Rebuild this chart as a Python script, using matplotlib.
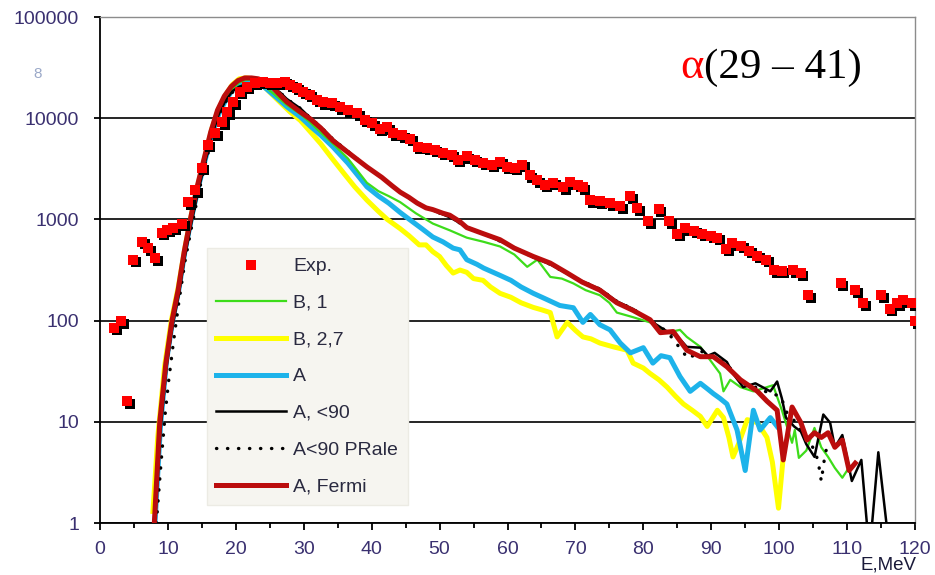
import matplotlib
matplotlib.use('Agg')
import matplotlib.pyplot as plt
from matplotlib import ticker, transforms

plt.rcParams['font.family'] = ['Liberation Sans', 'DejaVu Sans']

# Experimental points (E in MeV, counts)
exp_E = [2.1, 3.1, 4.0, 4.9, 6.2, 7.1, 8.1, 9.1, 9.9, 10.8, 12.1, 13.0, 14.0, 15.0, 15.9, 17.0,
         18.0, 18.7, 19.6, 20.6, 21.6, 22.8, 24.0, 25.0, 26.1, 27.2, 28.0, 29.0, 29.9, 30.9,
         32.0, 32.8, 34.2, 35.3, 36.5, 37.9, 39.0, 40.1, 41.2, 42.3, 43.2, 44.5, 45.7, 46.8,
         48.2, 49.3, 50.5, 51.8, 52.7, 54.0, 55.2, 56.4, 57.7, 58.9, 59.9, 61.1, 62.2, 63.3,
         64.4, 65.5, 66.7, 68.2, 69.2, 70.4, 71.1, 72.2, 73.6, 75.1, 76.6, 78.1, 79.1, 80.7,
         82.3, 83.8, 85.0, 86.2, 87.5, 88.7, 90.0, 90.9, 92.2, 93.1, 94.4, 95.6, 96.8, 98.1,
         99.3, 100.4, 102.1, 103.2, 104.3, 109.1, 111.2, 112.4, 115.0, 116.3, 117.4, 118.3,
         119.6, 120.0]
exp_v = [85, 98, 16, 400, 600, 520, 415, 740, 790, 830, 910, 1480, 1940, 3240, 5470, 7100,
         9150, 11500, 14400, 18200, 20400, 22300, 22800, 22300, 22300, 22800, 21500, 19900, 18200, 17000,
         15200, 14400, 14100, 12900, 12000, 11200, 9600, 8960, 7900, 8100, 7100, 6800, 6300, 5200,
         5100, 4900, 4550, 4350, 3900, 4200, 3900, 3620, 3460, 3700, 3300, 3230, 3460, 2740,
         2450, 2190, 2290, 2090, 2340, 2190, 2090, 1550, 1510, 1450, 1350, 1700, 1290, 960,
         1260, 960, 720, 820, 770, 720, 690, 660, 510, 580, 550, 490, 435, 400,
         316, 310, 316, 295, 178, 235, 200, 148, 178, 131, 148, 158,
         148, 98]

# B, 1
grn_E = [8.1, 8.9, 9.8, 10.7, 11.6, 12.5, 13.5, 14.5, 15.5, 16.5, 17.5, 18.5, 19.5, 20.5, 21.5,
         22.5, 23.5, 24.5, 26, 27.5, 29.5, 31, 32.5, 34.3, 36.5, 39.3, 41, 42.5, 44.2, 46.5, 49,
         51.5, 54, 56.5, 58.9, 61, 62.9, 64.4, 66.3, 68, 69.7, 71.5, 73.6, 75, 76.1, 78.5, 81,
         83.5, 85.4, 86.4, 88.4, 89.8, 91.3, 91.8, 92.8, 94.3, 96.2, 98.2, 99.1, 100.4, 101.9,
         102.3, 102.9, 104, 105.2, 106.2, 107.2, 108.2, 109.3, 110.0]
grn_v = [1, 9, 40, 100, 210, 490, 1080, 2150, 4000, 7200, 11200, 15500, 19500, 22500, 24000,
         24000, 22500, 20000, 16500, 13500, 11000, 9000, 7200, 5600, 4000, 2300, 1900, 1700, 1480, 1150, 910,
         780, 660, 600, 540, 450, 340, 400, 270, 260, 233, 200, 178, 150, 120, 108, 96,
         76, 81, 69, 55, 41, 30, 20, 26, 22, 20, 22, 23, 13, 6.2,
         8.3, 4.4, 5.2, 8.7, 5.6, 4.5, 3.5, 2.8, 3.3]

# B, 2,7
yel_E = [7.8, 8.5, 9.5, 10.5, 11.5, 12.5, 13.5, 14.5, 15.5, 16.5, 17.5, 18.5, 19.5, 20.5, 21.5,
         22.5, 23.5, 24.5, 26, 28, 29.5, 31, 32.5, 34.3, 36, 37.5, 39.3, 41, 42.3, 44.2, 45.5,
         47, 48, 49, 50, 51, 52, 53, 54, 55, 56.4, 57.5, 58.9, 60.5, 62, 63.8, 65, 66.3, 67.3,
         68.8, 70, 71.1, 72.3, 73.6, 75.6, 77.6, 78.5, 80, 81, 82.3, 83.5, 84.7, 85.9, 87.2,
         88.4, 89.4, 90.9, 91.8, 92.6, 93.2, 94.0, 95.3, 96.8, 98.2, 99.0, 99.9, 100.6]
yel_v = [1.3, 7, 35, 100, 210, 520, 1150, 2300, 4300, 8000, 12500, 17000, 21500, 24500, 25000,
         24500, 22500, 19500, 15500, 11500, 9500, 7300, 5600, 3900, 2800, 2100, 1550, 1200, 1000, 810, 690,
         560, 560, 480, 430, 350, 295, 316, 300, 260, 250, 215, 186, 170, 150, 135, 128, 120, 69,
         96, 80, 69, 66, 60, 55, 51, 38, 34, 30, 26, 22, 18, 15, 13,
         11.3, 9, 13, 11, 7, 4.5, 6, 10.5, 9.8, 7, 4, 1.4, 4.5]

# A
blu_E = [8.1, 8.9, 9.8, 10.7, 11.6, 12.5, 13.5, 14.5, 15.5, 16.5, 17.5, 18.5, 19.5, 20.5, 21.5,
         22.5, 23.5, 24.5, 26, 27.5, 29.5, 31, 32.5, 34.3, 36.5, 39.3, 41, 42.5, 44.2, 46, 47.5,
         49, 50.5, 52, 53, 54, 55.5, 56.5, 58.9, 60.5, 62, 63.8, 65.5, 67.7, 69.7, 71.1, 72.2,
         73.6, 75.1, 76.6, 78.1, 80, 81.4, 82.6, 83.9, 85.4, 86.9, 88.4, 89.5, 90.3, 91.3, 92.3,
         93.8, 95.0, 96.2, 97.2, 98.7, 99.7]
blu_v = [1, 9, 40, 100, 200, 480, 1050, 2100, 3900, 7000, 11000, 15000, 19000, 22000, 23500,
         23500, 22000, 19500, 16000, 13000, 10300, 8300, 6800, 5200, 3600, 2100, 1700, 1450, 1170, 950, 800,
         670, 600, 520, 500, 400, 360, 330, 280, 250, 215, 186, 165, 141, 134, 96, 115,
         91, 81, 60, 48, 54, 38, 45, 43, 28, 20, 24, 21, 19, 17, 15,
         8.3, 3.3, 13, 8.3, 11, 9]

# A, <90
blk_E = [8.1, 8.9, 9.8, 10.7, 11.6, 12.5, 13.5, 14.5, 15.5, 16.5, 17.5, 18.5, 19.5, 20.5, 21.5,
         22.5, 23.5, 24.5, 25.5, 26.5, 27.5, 29.5, 31, 32.5, 34.3, 36.5, 39.3, 42, 44.2, 46.7,
         49, 51.5, 54, 56.5, 58.9, 61, 63.8, 66.3, 68.8, 71, 73.6, 76.1, 78.5, 81, 83.5, 85,
         86.4, 88.4, 89.5, 90.5, 92.3, 93.2, 94.7, 96.5, 98.7, 99.7, 100.4, 101.0, 102.2, 103.2,
         104.0, 105.2, 106.5, 107.5, 108.2, 109.3, 110.7, 112.1, 113.3, 114.6, 116.3]
blk_v = [1, 8, 35, 90, 180, 430, 950, 1950, 3700, 6800, 11000, 15000, 18500, 20500, 21500,
         22000, 22000, 21500, 20000, 18000, 15500, 12500, 10000, 8200, 6200, 4700, 3300, 2450, 1850, 1450,
         1230, 1050, 840, 720, 610, 530, 420, 360, 290, 245, 205, 155, 130, 100, 78, 70,
         55, 54, 45, 48, 39, 30, 22, 24, 20, 25, 17, 11, 9, 8,
         6, 4.5, 11.8, 9.8, 5.6, 7.4, 2.6, 4.2, 0.5, 5, 0.5]

# A<90 PRale
dot_E = [8.3, 9.0, 9.6, 10.1, 10.8, 11.6, 12.5, 13.5, 14.5, 15.5, 16.5, 17.5, 18.5, 19.5, 20.5,
         21.5, 22.5, 23.5, 24.5, 25.5, 26.5, 27.5, 29.5, 31, 32.5, 34.3, 36.5, 39.3, 42, 44.2,
         46.7, 49, 51.5, 54, 56.5, 58.9, 61, 63.8, 66.3, 68.8, 71, 73.6, 76.1, 78.5, 81, 83.5,
         86.6, 88.4, 90.5, 92.3, 94.7, 96.5, 98.7, 100.2, 101.2, 102.4, 103.3, 104.2, 105.0,
         105.7, 106.2, 106.8, 107.3]
dot_v = [1, 4, 12, 25, 60, 150, 380, 850, 1800, 3500, 6500, 10500, 14500, 18000, 20000,
         21500, 22000, 22000, 21500, 20000, 18000, 15500, 12500, 10000, 8200, 6200, 4700, 3300, 2450, 1850,
         1450, 1230, 1050, 840, 720, 610, 530, 420, 360, 290, 245, 205, 155, 130, 100, 78,
         42, 50, 44, 37, 24, 22, 19, 18, 12, 10, 8, 7, 5.5,
         4.2, 2.6, 5, 6]

# A, Fermi
red_E = [8.0, 8.8, 9.7, 10.6, 11.5, 12.4, 13.3, 14.3, 15.3, 16.3, 17.3, 18.3, 19.3, 20.3, 21.3,
         22.3, 23.3, 24.3, 25.3, 26.3, 27.5, 29.5, 31, 32.5, 34.3, 36.5, 39.3, 41.5, 43, 44.2,
         45.5, 46.7, 48, 49, 50.5, 51.5, 53, 54, 56.5, 58.9, 61, 63.8, 66.3, 68.8, 71, 73.6,
         76.1, 78.5, 81, 82.5, 84.4, 86.4, 88.4, 90.3, 92.3, 94.3, 96.8, 98.2, 99.7, 100.6,
         101.9, 103.2, 104.1, 105.2, 106.2, 107.2, 108.2, 109.3, 110.3, 111.2]
red_v = [1, 10, 38, 100, 200, 480, 1000, 2100, 3900, 7300, 12000, 16500, 20500, 23500, 25000,
         25000, 24500, 23000, 20500, 17500, 14500, 11500, 9800, 8000, 6000, 4600, 3300, 2600, 2150, 1860,
         1650, 1450, 1300, 1250, 1150, 1100, 950, 830, 720, 630, 520, 430, 370, 295, 240, 200,
         150, 126, 102, 76, 78, 51, 44, 44, 35, 26, 20, 16, 13, 4.2,
         14, 9.8, 6.6, 7.8, 7, 7.8, 5.6, 6.6, 3.3, 3.9]

x_ticks = list(range(0, 121, 10))
y_ticks = [1, 10, 100, 1000, 10000, 100000]
y_tick_labels = ['1', '10', '100', '1000', '10000', '100000']

label_color = '#3a3070'

fig = plt.figure(figsize=(9.35, 5.75), dpi=100)
ax = fig.add_axes([100 / 935, 52 / 575, 815 / 935, 506 / 575])
ax.set_yscale('log')

l_yel, = ax.plot(yel_E, yel_v, color='#ffff00', lw=3.6, solid_joinstyle='round', label='B, 2,7', zorder=3)
l_blu, = ax.plot(blu_E, blu_v, color='#1db3ea', lw=3.6, solid_joinstyle='round', label='A', zorder=4)
l_grn, = ax.plot(grn_E, grn_v, color='#3ddc1a', lw=1.6, label='B, 1', zorder=5)
l_blk, = ax.plot(blk_E, blk_v, color='black', lw=1.8, label='A, <90', zorder=6)
l_dot, = ax.plot(dot_E, dot_v, color='black', lw=2.4, linestyle=(0, (0.1, 3.2)),
                 dash_capstyle='round', label='A<90 PRale', zorder=6)
l_red, = ax.plot(red_E, red_v, color='#bb0d0d', lw=3.6, solid_joinstyle='round', label='A, Fermi', zorder=7)

# experimental squares with their dark drop shadow
shadow = transforms.offset_copy(ax.transData, fig=fig, x=2.5, y=-2.5, units='dots')
ax.plot(exp_E, exp_v, 's', color='black', ms=6.5, mew=0, transform=shadow, zorder=8)
l_exp, = ax.plot(exp_E, exp_v, 's', color='#ff0000', ms=6.5, mew=0, label='Exp.', zorder=9)

ax.set_xlim(0, 120)
ax.set_ylim(1, 100000)
ax.set_xticks(x_ticks)
ax.xaxis.set_minor_locator(ticker.MultipleLocator(5))
ax.set_yticks(y_ticks)
ax.set_yticklabels(y_tick_labels)
ax.yaxis.set_minor_locator(ticker.NullLocator())
ax.tick_params(axis='x', which='major', direction='out', length=5, width=1.3, pad=8,
               labelsize=14, labelcolor=label_color)
ax.tick_params(axis='x', which='minor', direction='out', length=3.5, width=1.3)
ax.tick_params(axis='y', which='major', direction='out', length=4, width=1.3, pad=11,
               labelsize=14, labelcolor=label_color)
ax.grid(axis='y', which='major', color='black', lw=1.2)
for s in ['left', 'bottom']:
    ax.spines[s].set_linewidth(1.3)
for s in ['top', 'right']:
    ax.spines[s].set_color('#8c8c8c')
    ax.spines[s].set_linewidth(1.0)

leg = ax.legend([l_exp, l_grn, l_yel, l_blu, l_blk, l_dot, l_red],
                ['Exp.', 'B, 1', 'B, 2,7', 'A', 'A, <90', 'A<90 PRale', 'A, Fermi'],
                loc='upper left', bbox_to_anchor=(0.131, 0.5435), borderaxespad=0,
                fontsize=14, handlelength=3.6, handletextpad=0.35, labelspacing=0.98,
                borderpad=0.5, numpoints=1, fancybox=False, framealpha=1,
                facecolor='#f6f5f0', edgecolor='#ecebe4')
leg.set_zorder(20)
for t in leg.get_texts():
    t.set_color('#2a2a40')

t1 = ax.text(0.712, 0.879, 'α', transform=ax.transAxes, color='#ff0000', fontsize=32,
             family='Liberation Serif', va='baseline', ha='left')
ax.annotate('(29 – 41)', xy=(1, 0), xycoords=t1, va='bottom', ha='left',
            fontsize=31, family='Liberation Serif', color='black')

fig.text(917 / 935, 1 - 570 / 575, 'E,MeV', ha='right', va='baseline', fontsize=13.5, color='#1a1a3a')
fig.text(38 / 935, 1 - 74 / 575, '8', ha='center', va='center', fontsize=11, color='#9aa8c8')

fig.savefig('out.png', dpi=100)
